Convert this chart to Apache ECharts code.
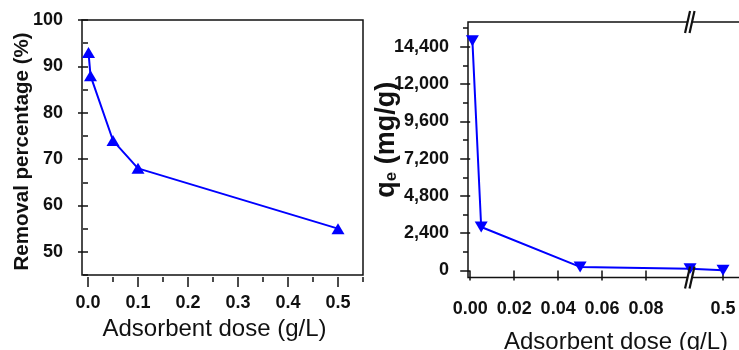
<!DOCTYPE html>
<html>
<head>
<meta charset="utf-8">
<script src="https://cdn.jsdelivr.net/npm/echarts@6/dist/echarts.min.js"></script>
<style>
  html, body { margin: 0; padding: 0; background: #fff; }
  #chart { width: 739px; height: 350px; }
</style>
</head>
<body>
<div id="chart"></div>
<script>
// data
var doseA = [0.001, 0.005, 0.05, 0.1, 0.5];        // g/L
var removal = [93, 88, 74, 68, 55];                 // %
var doseB = [0.001, 0.005, 0.05, 0.1, 0.5];         // g/L
var qe = [14800, 2800, 230, 110, 20];               // mg/g

var removalTicks = [50, 60, 70, 80, 90, 100];
var removalMinor = [45, 55, 65, 75, 85, 95];
var doseTicksA = [0, 0.1, 0.2, 0.3, 0.4, 0.5];
var doseMinorA = [0.05, 0.15, 0.25, 0.35, 0.45, 0.55];
var qeTicks = [0, 2400, 4800, 7200, 9600, 12000, 14400];
var qeMinor = [1200, 3600, 6000, 8400, 10800, 13200, 15600];
var doseTicksB = [0, 0.02, 0.04, 0.06, 0.08, 0.5];

var FONT = 'Liberation Sans, Arial, sans-serif';
var INK = '#111';
var BLUE = '#0000ff';

var myChart = echarts.init(document.getElementById('chart'));

function tickAxis(extra) {
	var base = {
		type: 'value',
		axisLine: {show: false},
		splitLine: {show: false},
		axisLabel: {show: false},
		nameMoveOverlap: false,
		axisTick: {show: true, inside: false, length: 5, lineStyle: {color: INK, width: 1.5}}
	};
	for (var k in extra) base[k] = extra[k];
	return base;
}

var option = {
	animation: false,
	textStyle: {fontFamily: FONT},
	grid: [
		{left: 82, top: 20, width: 281, height: 255, show: true, borderColor: INK, borderWidth: 1.5,
			backgroundColor: 'transparent', outerBoundsMode: 'none'},
		{left: 468, top: 22, width: 277, height: 255.5, show: true, borderColor: INK, borderWidth: 1.5,
			backgroundColor: 'transparent', outerBoundsMode: 'none'}
	],
	xAxis: [
		tickAxis({
			gridIndex: 0, position: 'bottom', min: -0.012, max: 0.55, offset: 2,
			axisTick: {show: true, length: 10, customValues: doseTicksA, lineStyle: {color: INK, width: 1.5}},
			axisLabel: {show: true, customValues: doseTicksA, margin: 17,
				formatter: function (v) { return v.toFixed(1); },
				fontFamily: FONT, fontSize: 18, fontWeight: 'bold', color: INK},
			name: 'Adsorbent dose (g/L)', nameLocation: 'middle', nameGap: 40,
			nameTextStyle: {fontFamily: FONT, fontSize: 24, color: INK, padding: [0, 16, 0, 0]}
		}),
		tickAxis({
			gridIndex: 0, position: 'bottom', min: -0.012, max: 0.55, offset: 2,
			axisTick: {show: true, length: 5, customValues: doseMinorA, lineStyle: {color: INK, width: 1.5}}
		}),
		tickAxis({
			gridIndex: 1, position: 'bottom', min: -0.001, max: 0.51, offset: 2,
			breaks: [{start: 0.1, end: 0.485, gap: 0}],
			breakArea: {show: false},
			axisTick: {show: true, length: 10, customValues: doseTicksB, lineStyle: {color: INK, width: 1.5}},
			axisLabel: {show: true, customValues: doseTicksB, margin: 21,
				formatter: function (v) { return v >= 0.1 ? v.toFixed(1) : v.toFixed(2); },
				fontFamily: FONT, fontSize: 18, fontWeight: 'bold', color: INK},
			name: 'Adsorbent dose (g/L)', nameLocation: 'middle', nameGap: 51,
			nameTextStyle: {fontFamily: FONT, fontSize: 24, color: INK, padding: [0, 0, 0, 19]}
		})
	],
	yAxis: [
		tickAxis({
			gridIndex: 0, position: 'left', min: 45, max: 100,
			axisTick: {show: true, length: 10, customValues: removalTicks, lineStyle: {color: INK, width: 1.5}},
			axisLabel: {show: true, customValues: removalTicks, margin: 19,
				fontFamily: FONT, fontSize: 18, fontWeight: 'bold', color: INK},
			name: 'Removal percentage (%)', nameLocation: 'middle', nameGap: 49,
			nameTextStyle: {fontFamily: FONT, fontSize: 20.5, fontWeight: 'bold', color: INK, padding: [0, 8, 0, 0]}
		}),
		tickAxis({
			gridIndex: 0, position: 'left', min: 45, max: 100,
			axisTick: {show: true, length: 5, customValues: removalMinor, lineStyle: {color: INK, width: 1.5}}
		}),
		tickAxis({
			gridIndex: 1, position: 'left', min: -450, max: 16000,
			axisTick: {show: true, length: 10, customValues: qeTicks, lineStyle: {color: INK, width: 1.5}},
			axisLabel: {show: true, customValues: qeTicks, margin: 19,
				formatter: function (v) { return v.toLocaleString('en-US'); },
				fontFamily: FONT, fontSize: 18, fontWeight: 'bold', color: INK},
			name: '{q|q}{e|e}{r| (mg/g)}', nameLocation: 'middle', nameGap: 68,
			nameTextStyle: {
				fontFamily: FONT, fontWeight: 'bold', color: INK, padding: [0, 0, 0, 20],
				rich: {
					q: {fontFamily: FONT, fontSize: 27, fontWeight: 'bold', color: INK},
					e: {fontFamily: FONT, fontSize: 17, fontWeight: 'bold', color: INK, padding: [10, 0, 0, 0]},
					r: {fontFamily: FONT, fontSize: 27, fontWeight: 'bold', color: INK}
				}
			}
		}),
		tickAxis({
			gridIndex: 1, position: 'left', min: -450, max: 16000,
			axisTick: {show: true, length: 5, customValues: qeMinor, lineStyle: {color: INK, width: 1.5}}
		})
	],
	series: [
		{
			type: 'line', xAxisIndex: 0, yAxisIndex: 0,
			data: doseA.map(function (d, i) { return [d, removal[i]]; }),
			symbol: 'triangle', symbolSize: [13, 11],
			lineStyle: {color: BLUE, width: 2},
			itemStyle: {color: BLUE}
		},
		{
			type: 'line', xAxisIndex: 2, yAxisIndex: 2,
			data: doseB.map(function (d, i) { return [d, qe[i]]; }),
			symbol: 'triangle', symbolRotate: 180, symbolSize: [13, 11],
			lineStyle: {color: BLUE, width: 2},
			itemStyle: {color: BLUE}
		}
	]
};

myChart.setOption(option);

// "//" break marks on the top and bottom edges of the right frame
var xb = myChart.convertToPixel({xAxisIndex: 2}, 0.1);
var yTop = myChart.convertToPixel({yAxisIndex: 2}, 16000);
var yBot = myChart.convertToPixel({yAxisIndex: 2}, -450);
var marks = [];
[yTop, yBot].forEach(function (y) {
	marks.push({type: 'polygon', z: 100, silent: true,
		shape: {points: [[xb - 3.5, y + 4], [xb + 0.5, y + 4], [xb + 3.5, y - 4], [xb - 0.5, y - 4]]},
		style: {fill: '#fff'}});
	marks.push({type: 'line', z: 101, silent: true,
		shape: {x1: xb - 5, y1: y + 11, x2: xb, y2: y - 11},
		style: {stroke: INK, lineWidth: 2.2}});
	marks.push({type: 'line', z: 101, silent: true,
		shape: {x1: xb - 0.5, y1: y + 11, x2: xb + 4.5, y2: y - 11},
		style: {stroke: INK, lineWidth: 2.2}});
});
myChart.setOption({graphic: marks});
</script>
</body>
</html>
